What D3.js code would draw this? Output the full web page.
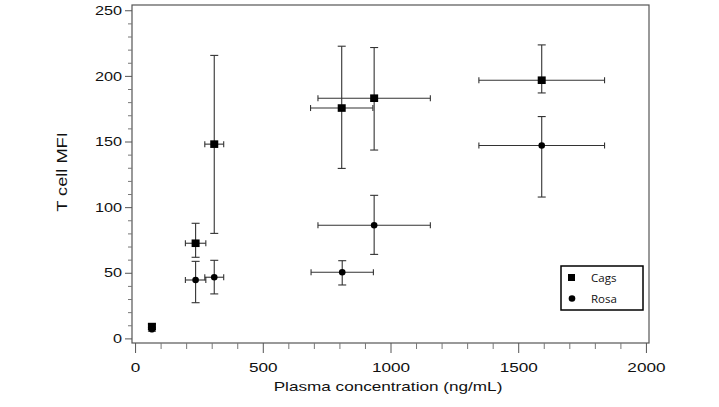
<!DOCTYPE html>
<html><head><meta charset="utf-8">
<script src="https://cdn.jsdelivr.net/npm/d3@7"></script>
<style>
html,body{margin:0;padding:0;background:#fff;}
svg{display:block;}
</style></head>
<body>
<script>
// ---- data ----
const concentrations = [66, 237, 310, 809, 936, 1592];
const concErr = [4, 40, 37, 122, 220, 246];
const cagsMFI   = [9, 72.5, 148, 175.5, 183, 196.7];
const cagsHigh  = [11, 87.7, 215.6, 222.6, 221.6, 223.6];
const cagsLow   = [7, 61.8, 80, 129.5, 143.5, 187];
const rosaConc  = [66, 237, 310, 811, 936, 1592];
const rosaMFI   = [7, 44.5, 46.6, 50.4, 86.2, 147];
const rosaHigh  = [8.5, 58.7, 59.5, 59.2, 109, 169];
const rosaLow   = [5.5, 27.2, 33.9, 40.7, 64, 107.7];
const xTicks = [0, 500, 1000, 1500, 2000];
const yTicks = [0, 50, 100, 150, 200, 250];
const seriesNames = ["Cags", "Rosa"];

const W = 719, H = 407;
const svg = d3.select("body").append("svg").attr("width", W).attr("height", H);

const x = d3.scaleLinear().domain([-12, 2012]).range([132, 649]);
const y = d3.scaleLinear().domain([-3.5, 254]).range([343, 5]);

const axisColor = "#555";
const fontFam = "'Liberation Sans', Arial, sans-serif";

// frame
svg.append("rect").attr("x", 132).attr("y", 5).attr("width", 517).attr("height", 338)
  .attr("fill", "none").attr("stroke", axisColor).attr("stroke-width", 1.2);

// x axis minor
const xMinor = d3.range(0, 2001, 100).filter(v => v % 500 !== 0);
svg.append("g").attr("transform", "translate(0,343)")
  .call(d3.axisBottom(x).tickValues(xMinor).tickSize(6).tickFormat(""))
  .call(g => g.select(".domain").remove())
  .call(g => g.selectAll("line").attr("stroke", "#777"));
const gx = svg.append("g").attr("transform", "translate(0,343)")
  .call(d3.axisBottom(x).tickValues(xTicks).tickSize(10).tickPadding(10).tickFormat(d3.format("d")))
  .call(g => g.select(".domain").remove());
gx.selectAll("line").attr("stroke", axisColor);
gx.selectAll("text").attr("font-family", fontFam).attr("font-size", 13).attr("fill", "#111")
  .attr("transform", "scale(1.32,1)");

// y axis minor
const yMinor = d3.range(0, 251, 10).filter(v => v % 50 !== 0);
svg.append("g").attr("transform", "translate(132,0)")
  .call(d3.axisLeft(y).tickValues(yMinor).tickSize(4).tickFormat(""))
  .call(g => g.select(".domain").remove())
  .call(g => g.selectAll("line").attr("stroke", "#777"));
const gy = svg.append("g").attr("transform", "translate(132,0)")
  .call(d3.axisLeft(y).tickValues(yTicks).tickSize(7).tickPadding(3).tickFormat(d3.format("d")))
  .call(g => g.select(".domain").remove());
gy.selectAll("line").attr("stroke", axisColor);
gy.selectAll("text").attr("font-family", fontFam).attr("font-size", 13).attr("fill", "#111")
  .attr("x", -10 / 1.25).attr("transform", "scale(1.25,1)");

// axis titles
svg.append("text").attr("transform", "translate(388,391) scale(1.3,1)")
  .attr("text-anchor", "middle").attr("font-family", fontFam).attr("font-size", 13.2).attr("fill", "#111")
  .text("Plasma concentration (ng/mL)");
svg.append("text").attr("transform", "translate(66.5,172) rotate(-90) scale(1.3,1)")
  .attr("text-anchor", "middle").attr("font-family", fontFam).attr("font-size", 14).attr("fill", "#111")
  .text("T cell MFI");

// error bars
function drawSeries(conc, mid, hi, lo, shape) {
  const g = svg.append("g");
  const data = conc.map((c, i) => ({c, m: mid[i], hi: hi[i], lo: lo[i], xe: concErr[i]}));
  const eb = g.selectAll("g.eb").data(data).enter().append("g").attr("class", "eb")
    .attr("stroke", "#333").attr("stroke-width", 1.1);
  // vertical
  eb.append("line").attr("x1", d => x(d.c)).attr("x2", d => x(d.c))
    .attr("y1", d => y(d.hi)).attr("y2", d => y(d.lo));
  eb.append("line").attr("x1", d => x(d.c) - 4).attr("x2", d => x(d.c) + 4)
    .attr("y1", d => y(d.hi)).attr("y2", d => y(d.hi));
  eb.append("line").attr("x1", d => x(d.c) - 4).attr("x2", d => x(d.c) + 4)
    .attr("y1", d => y(d.lo)).attr("y2", d => y(d.lo));
  // horizontal
  eb.append("line").attr("x1", d => x(d.c - d.xe)).attr("x2", d => x(d.c + d.xe))
    .attr("y1", d => y(d.m)).attr("y2", d => y(d.m));
  eb.append("line").attr("x1", d => x(d.c - d.xe)).attr("x2", d => x(d.c - d.xe))
    .attr("y1", d => y(d.m) - 3).attr("y2", d => y(d.m) + 3);
  eb.append("line").attr("x1", d => x(d.c + d.xe)).attr("x2", d => x(d.c + d.xe))
    .attr("y1", d => y(d.m) - 3).attr("y2", d => y(d.m) + 3);
  // markers
  if (shape === "square") {
    g.selectAll("rect.mk").data(data).enter().append("rect").attr("class", "mk")
      .attr("x", d => x(d.c) - 4).attr("y", d => y(d.m) - 3.8)
      .attr("width", 8).attr("height", 7.6).attr("fill", "#000");
  } else {
    g.selectAll("circle.mk").data(data).enter().append("circle").attr("class", "mk")
      .attr("cx", d => x(d.c)).attr("cy", d => y(d.m)).attr("r", 3.3).attr("fill", "#000");
  }
}
drawSeries(rosaConc, rosaMFI, rosaHigh, rosaLow, "circle");
drawSeries(concentrations, cagsMFI, cagsHigh, cagsLow, "square");

// legend
const lg = svg.append("g");
lg.append("rect").attr("x", 561).attr("y", 266).attr("width", 82).attr("height", 44)
  .attr("fill", "#fff").attr("stroke", "#000").attr("stroke-width", 1.5);
lg.append("rect").attr("x", 568).attr("y", 274).attr("width", 7).attr("height", 7).attr("fill", "#000");
lg.append("circle").attr("cx", 572).attr("cy", 298.5).attr("r", 3.3).attr("fill", "#000");
lg.selectAll("text.lt").data(seriesNames).enter().append("text").attr("class", "lt")
  .attr("x", 591).attr("y", (d, i) => 282 + i * 21)
  .attr("font-family", "'Open Sans', sans-serif").attr("font-size", 11.5).attr("fill", "#111")
  .text(d => d);
</script>
</body></html>
